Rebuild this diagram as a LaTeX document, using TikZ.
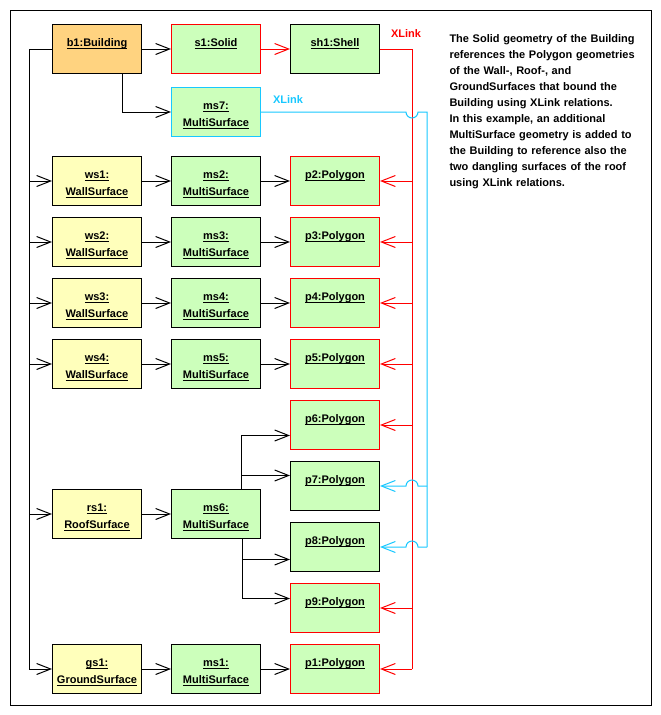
\documentclass[tikz,border=0pt]{standalone}
\usepackage{fontspec}
\setmainfont{Liberation Sans}
\usetikzlibrary{arrows.meta}
\definecolor{bldorange}{RGB}{255,211,128}
\definecolor{surfyellow}{RGB}{255,255,187}
\definecolor{geomgreen}{RGB}{204,255,187}
\definecolor{xlinkblue}{RGB}{24,200,255}
\newcommand{\ulabel}[1]{\setbox0\hbox{#1}\leavevmode\rlap{\rule[-3.2pt]{\wd0}{0.9pt}}\box0}
\newcommand{\objtext}[1]{\parbox[c][49pt][t]{89pt}{\centering\fontsize{11}{17}\selectfont\bfseries\rule{0pt}{21.5pt}#1}}

\begin{document}
\begin{tikzpicture}
      [x=1pt, y=-1pt, line width=1pt,
       obj/.style={draw, inner sep=0pt, anchor=north west},
       bld/.style={obj, fill=bldorange},
       surf/.style={obj, fill=surfyellow},
       geom/.style={obj, fill=geomgreen},
       linked/.style={geom, draw=red},
       arr/.style={-{Straight Barb[length=14pt,width=11pt]}},
       link/.style={font=\fontsize{11}{13}\selectfont\bfseries, inner sep=0pt}]
      \useasboundingbox (0,0) rectangle (661,715);
      \fill[white] (0,0) rectangle (661,715);
      \draw (10,10) rectangle (651,705);
      % building and its solid
      \node[bld] (b1) at (52,24) {\objtext{\ulabel{b1:Building}}};
      \node[linked] (s1) at (171,24) {\objtext{\ulabel{s1:Solid}}};
      \node[geom] (sh1) at (290,24) {\objtext{\ulabel{sh1:Shell}}};
      \node[geom, draw=xlinkblue] (ms7) at (171,87) {\objtext{\ulabel{ms7:}\\\ulabel{MultiSurface}}};
      \draw[arr] (b1) -- (s1);
      \draw[arr, red] (s1) -- (sh1);
      \draw[arr] ([xshift=25.5pt]b1.south) |- (ms7);
      % wall surfaces
      \foreach \w/\m/\p/\y in {ws1/ms2/p2/156, ws2/ms3/p3/217, ws3/ms4/p4/278, ws4/ms5/p5/339}
        {
        \node[surf] (\w) at (52,\y) {\objtext{\ulabel{\w:}\\\ulabel{WallSurface}}};
        \node[geom] (\m) at (171,\y) {\objtext{\ulabel{\m:}\\\ulabel{MultiSurface}}};
        \node[linked] (\p) at (290,\y) {\objtext{\ulabel{\p:Polygon}}};
        \draw[arr] (\w) -- (\m);
        \draw[arr] (\m) -- (\p);
        }
      % roof surface
      \node[linked] (p6) at (290,400) {\objtext{\ulabel{p6:Polygon}}};
      \node[geom] (p7) at (290,461) {\objtext{\ulabel{p7:Polygon}}};
      \node[surf] (rs1) at (52,489) {\objtext{\ulabel{rs1:}\\\ulabel{RoofSurface}}};
      \node[geom] (ms6) at (171,489) {\objtext{\ulabel{ms6:}\\\ulabel{MultiSurface}}};
      \node[geom] (p8) at (290,522) {\objtext{\ulabel{p8:Polygon}}};
      \node[linked] (p9) at (290,583) {\objtext{\ulabel{p9:Polygon}}};
      \draw[arr] (rs1) -- (ms6);
      \draw[arr] ([xshift=25.5pt]ms6.north) |- ([yshift=-10.5pt]p6.west);
      \draw[arr] ([xshift=25.5pt]ms6.north) |- ([yshift=10.5pt]p7.west);
      \draw[arr] ([xshift=26.5pt]ms6.south) |- ([yshift=-12.5pt]p8.west);
      \draw[arr] ([xshift=26.5pt]ms6.south) |- ([yshift=9.5pt]p9.west);
      % ground surface
      \node[surf] (gs1) at (52,644) {\objtext{\ulabel{gs1:}\\\ulabel{GroundSurface}}};
      \node[geom] (ms1) at (171,644) {\objtext{\ulabel{ms1:}\\\ulabel{MultiSurface}}};
      \node[linked] (p1) at (290,644) {\objtext{\ulabel{p1:Polygon}}};
      \draw[arr] (gs1) -- (ms1);
      \draw[arr] (ms1) -- (p1);
      % bounded-by trunk
      \coordinate (trunk) at (29,0);
      \draw (b1.west) -- (trunk |- b1.west) -- (trunk |- gs1.west);
      \foreach \s in {ws1,ws2,ws3,ws4,rs1,gs1}
        \draw[arr] (trunk |- \s.west) -- (\s);
      % xlinks
      \coordinate (redbus) at (412,0);
      \coordinate (bluebus) at (427,0);
      \draw[red] (sh1) -- (redbus |- sh1.east) -- (redbus |- p1.east);
      \foreach \p in {p2,p3,p4,p5,p6,p9,p1}
        \draw[arr, red] (redbus |- \p.east) -- (\p);
      \draw[xlinkblue] (ms7) -- ([xshift=-6pt]redbus |- ms7.east)
        arc[start angle=180, end angle=360, radius=6pt]
        -- (bluebus |- ms7.east) -- (bluebus |- p8.east);
      \foreach \p in {p7,p8}
        \draw[arr, xlinkblue] (bluebus |- \p.east) -- ([xshift=6pt]redbus |- \p.east)
          arc[start angle=0, end angle=180, radius=6pt] -- (\p);
      \node[link, text=red] (redlink) at (406,34) {XLink};
      \node[link, text=xlinkblue] (bluelink) at (288,100) {XLink};
      % explanation
      \node[anchor=base west, inner sep=0pt, text width=205pt, align=left,
        font=\fontsize{11}{16}\selectfont\bfseries] (note) at (449,42)
        {The Solid geometry of the Building\\
         references the Polygon geometries\\
         of the Wall-, Roof-, and\\
         GroundSurfaces that bound the\\
         Building using XLink relations.\\
         In this example, an additional\\
         MultiSurface geometry is added to\\
         the Building to reference also the\\
         two dangling surfaces of the roof\\
         using XLink relations.};
      \end{tikzpicture}
\end{document}
